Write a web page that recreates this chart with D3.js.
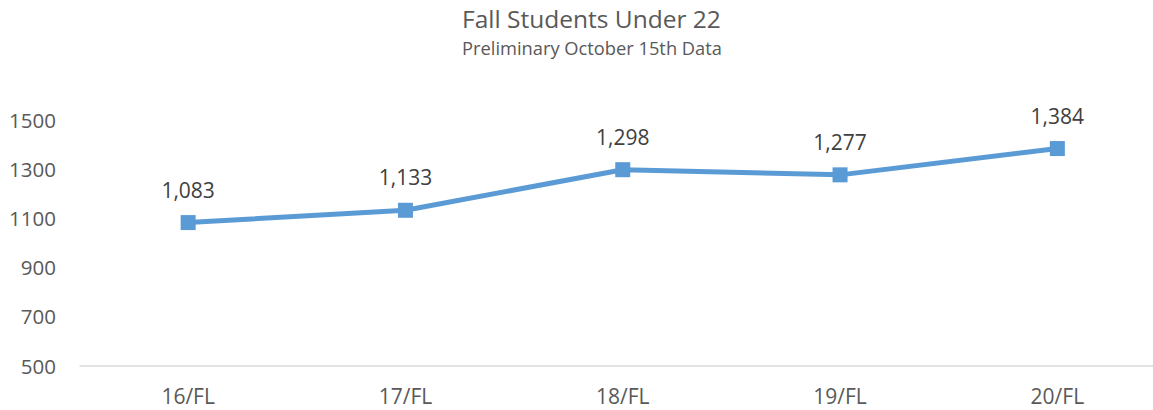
<!DOCTYPE html>
<html><head><meta charset="utf-8">
<script src="https://cdn.jsdelivr.net/npm/d3@7"></script>
<style>body{margin:0;background:#fff}svg{display:block}text{font-family:"Open Sans",sans-serif}</style>
</head><body>
<script>
const categories = ["16/FL","17/FL","18/FL","19/FL","20/FL"];
const values = [1083,1133,1298,1277,1384];
const yTicks = [500,700,900,1100,1300,1500];
const title = "Fall Students Under 22";
const subtitle = "Preliminary October 15th Data";

const W=1153,H=410;
const svg=d3.select("body").append("svg").attr("width",W).attr("height",H);
const x=d3.scaleBand().domain(categories).range([79.5,1166]);
const y=d3.scaleLinear().domain([500,1500]).range([366,120]);

svg.append("text").attr("x",591.5).attr("y",28).attr("text-anchor","middle")
  .attr("font-size",24.5).attr("fill","#595959").text(title);
svg.append("text").attr("x",592).attr("y",55).attr("text-anchor","middle")
  .attr("font-size",18.3).attr("fill","#595959").text(subtitle);

// y axis labels
const ya=svg.append("g").attr("transform","translate(56,0)")
  .call(d3.axisLeft(y).tickValues(yTicks).tickSize(0).tickPadding(0).tickFormat(d3.format("d")));
ya.select(".domain").remove();
ya.selectAll("text").attr("font-size",20.5).attr("fill","#595959").attr("font-family","Open Sans").attr("dy","0.35em");

// x axis
const xa=svg.append("g").attr("transform","translate(0,366)")
  .call(d3.axisBottom(x).tickSize(0).tickPadding(0));
xa.select(".domain").attr("stroke","#D9D9D9").attr("stroke-width",1.5).attr("d","M79.5,0H1153");
xa.selectAll("text").attr("font-size",21).attr("fill","#595959").attr("font-family","Open Sans").attr("y",38).attr("dy",0);

const cx=d=>x(d)+x.bandwidth()/2;
const pts=categories.map((c,i)=>({c,v:values[i]}));
svg.append("path").datum(pts)
  .attr("d",d3.line().x(d=>cx(d.c)).y(d=>y(d.v)))
  .attr("fill","none").attr("stroke","#5B9BD5").attr("stroke-width",5).attr("stroke-linejoin","round");
svg.selectAll("rect.m").data(pts).join("rect").attr("class","m")
  .attr("x",d=>cx(d.c)-7.5).attr("y",d=>y(d.v)-7.5).attr("width",15).attr("height",15).attr("fill","#5B9BD5");
svg.selectAll("text.lbl").data(pts).join("text").attr("class","lbl")
  .attr("x",d=>cx(d.c)).attr("y",d=>y(d.v)-25).attr("text-anchor","middle")
  .attr("font-size",21).attr("fill","#404040").text(d=>d3.format(",")(d.v));
</script>
</body></html>
